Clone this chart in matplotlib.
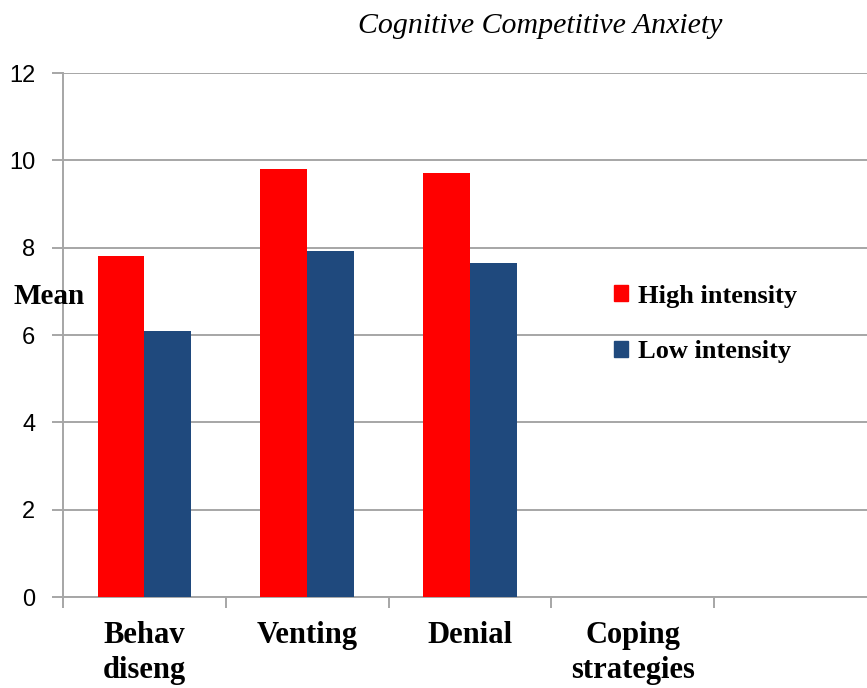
import matplotlib
matplotlib.use("Agg")
import matplotlib.pyplot as plt
import numpy as np
from matplotlib.patches import Patch

title = "Cognitive Competitive Anxiety"
tick_labels = ["Behav\ndiseng", "Venting", "Denial", "Coping\nstrategies", ""]
bar_categories = ["Behav\ndiseng", "Venting", "Denial"]
high_intensity = [7.8, 9.8, 9.7]
low_intensity = [6.1, 7.92, 7.65]
series_names = ["High intensity", "Low intensity"]
y_ticks = [0, 2, 4, 6, 8, 10, 12]

red = "#FF0000"
blue = "#1F497D"
grid_c = "#A6A6A6"

fig = plt.figure(figsize=(8.67, 6.88), dpi=100)
ax = fig.add_axes([63/867, 1-597/688, (877-63)/867, (597-73)/688])

x = np.arange(len(bar_categories))
w = 0.287
ax.bar(x - w/2, high_intensity, width=w, color=red, zorder=3)
ax.bar(x + w/2, low_intensity, width=w, color=blue, zorder=3)

ax.set_xlim(-0.5, len(tick_labels) - 0.5)
ax.set_ylim(0, 12)
ax.set_yticks(y_ticks)
ax.set_yticklabels([str(v) for v in y_ticks], fontfamily="Liberation Sans", fontsize=17)
ax.yaxis.grid(True, color=grid_c, linewidth=1.4, zorder=0)
ax.set_axisbelow(True)

ax.set_xticks(np.arange(len(tick_labels)))
ax.set_xticklabels(tick_labels, fontfamily="Liberation Serif", fontweight="bold",
                   fontsize=22, linespacing=1.28)
ax.set_xticks(np.arange(len(tick_labels)) - 0.5, minor=True)
ax.tick_params(axis="x", which="major", length=0, pad=17)
ax.tick_params(axis="x", which="minor", length=8, color=grid_c, width=1.4)
ax.tick_params(axis="y", length=8, color=grid_c, width=1.4, pad=12)

for s in ["top", "right"]:
    ax.spines[s].set_visible(False)
for s in ["left", "bottom"]:
    ax.spines[s].set_color(grid_c)
    ax.spines[s].set_linewidth(1.4)

fig.text(540/867, 1-26/688, title, ha="center", va="center",
         fontfamily="Liberation Serif", fontstyle="italic", fontsize=21.5)
fig.text(49/867, 1-296/688, "Mean", ha="center", va="center",
         fontfamily="Liberation Serif", fontweight="bold", fontsize=21)

handles = [Patch(color=red), Patch(color=blue)]
leg = fig.legend(handles, series_names, loc="center left",
                 bbox_to_anchor=(590/867, 1-324/688), frameon=False,
                 prop={"family": "Liberation Serif", "weight": "bold", "size": 19},
                 handlelength=0.55, handleheight=0.55, handletextpad=0.35,
                 labelspacing=1.25)

fig.savefig("out.png", dpi=100)
